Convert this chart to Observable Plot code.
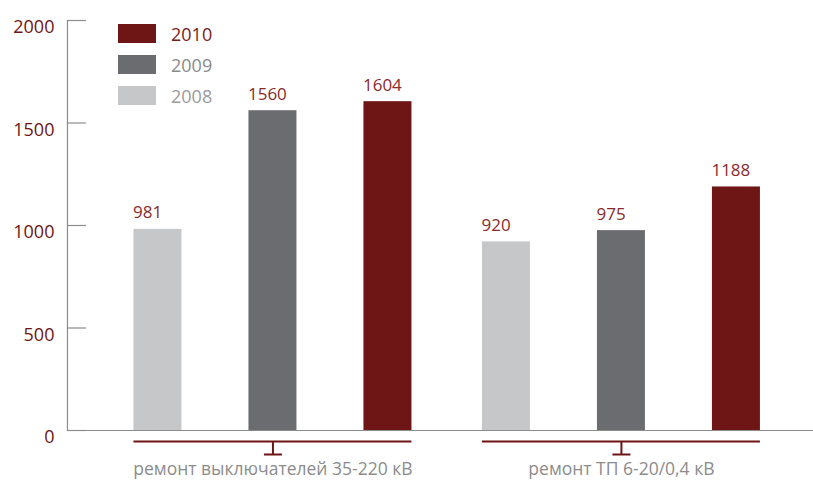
<!DOCTYPE html>
<html><head><meta charset="utf-8">
<script src="https://cdn.jsdelivr.net/npm/d3@7"></script>
<script src="https://cdn.jsdelivr.net/npm/@observablehq/plot@0.6"></script>
<style>
body{margin:0;background:#fff;font-family:"Open Sans",sans-serif}
#wrap{position:relative;width:813px;height:481px}
#legend{position:absolute;left:118px;top:24px}
.item{display:flex;align-items:center;height:19px;margin-bottom:12px;font-size:18px}
.sw{width:38px;height:19px;margin-right:15px}
</style></head><body>
<div id="wrap"><div id="chart"></div><div id="legend"></div></div>
<script>
const groups = ["ремонт выключателей 35-220 кВ", "ремонт ТП 6-20/0,4 кВ"];
const years = ["2008", "2009", "2010"];
const values2008 = [981, 920];
const values2009 = [1560, 975];
const values2010 = [1604, 1188];
const yTicks = [0, 500, 1000, 1500, 2000];
const legendYears = ["2010", "2009", "2008"];

const barColors = ["#c6c7c9", "#6b6c70", "#6e1515"];
const legendText = {"2010": "#7a1c1c", "2009": "#8a8a8c", "2008": "#9a9a9c"};
const red = "#6e1515";
const labelRed = "#8a2a2a";
const gray = "#8c8c8c";

const data = [];
groups.forEach((g, i) => {
  data.push({group: g, year: "2008", value: values2008[i]});
  data.push({group: g, year: "2009", value: values2009[i]});
  data.push({group: g, year: "2010", value: values2010[i]});
});

const tee = {draw(ctx) { ctx.moveTo(0, 0); ctx.lineTo(0, 13); ctx.moveTo(-9, 13); ctx.lineTo(9, 13); }};

const chart = Plot.plot({
  width: 813, height: 481,
  marginTop: 20, marginBottom: 51, marginLeft: 67, marginRight: 0,
  style: {fontFamily: "'Open Sans', sans-serif", background: "#fff"},
  fx: {domain: groups, paddingInner: 0.2023, paddingOuter: 0.1715, align: 0.556, round: false, label: null},
  x: {domain: years, paddingInner: 0.5826, paddingOuter: 0, round: false, axis: null},
  y: {domain: [0, 2000], axis: null},
  color: {domain: years, range: barColors},
  marks: [
    Plot.ruleY([0], {insetLeft: -66.5, insetRight: -54, stroke: gray, strokeWidth: 1.2}),
    Plot.frame({anchor: "left", facetAnchor: "left", dx: -66.5, stroke: gray, strokeWidth: 1.2}),
    Plot.barY(data, {fx: "group", x: "year", y: "value", fill: "year"}),
    Plot.text(data, {fx: "group", x: "year", y: "value", text: d => String(d.value), dx: -25, dy: -11, textAnchor: "start", lineAnchor: "bottom", fill: labelRed, fontSize: 17}),
    Plot.axisY({ticks: yTicks, tickFormat: () => "", label: null, dx: -66.5, tickSize: -19, stroke: gray, strokeWidth: 1.2}),
    Plot.axisY({ticks: yTicks, tickFormat: d => String(d), label: null, dx: -66.5, dy: 7, tickSize: 0, tickPadding: 13, fill: red, fontSize: 18}),
    Plot.axisFx({anchor: "bottom", tickSize: 0, tickPadding: 32, fontSize: 17.5, fill: gray, label: null}),
    Plot.ruleY([0], {dy: 11, stroke: red, strokeWidth: 2}),
    Plot.dot([0], {x: null, y: null, frameAnchor: "bottom", dy: 11, symbol: tee, stroke: red, fill: "none", strokeWidth: 2})
  ]
});
document.getElementById("chart").appendChild(chart);

const legend = document.getElementById("legend");
legendYears.forEach(y => {
  const item = document.createElement("div");
  item.className = "item";
  const sw = document.createElement("div");
  sw.className = "sw";
  sw.style.background = barColors[years.indexOf(y)];
  const t = document.createElement("span");
  t.textContent = y;
  t.style.color = legendText[y];
  item.appendChild(sw); item.appendChild(t);
  legend.appendChild(item);
});
</script>
</body></html>
